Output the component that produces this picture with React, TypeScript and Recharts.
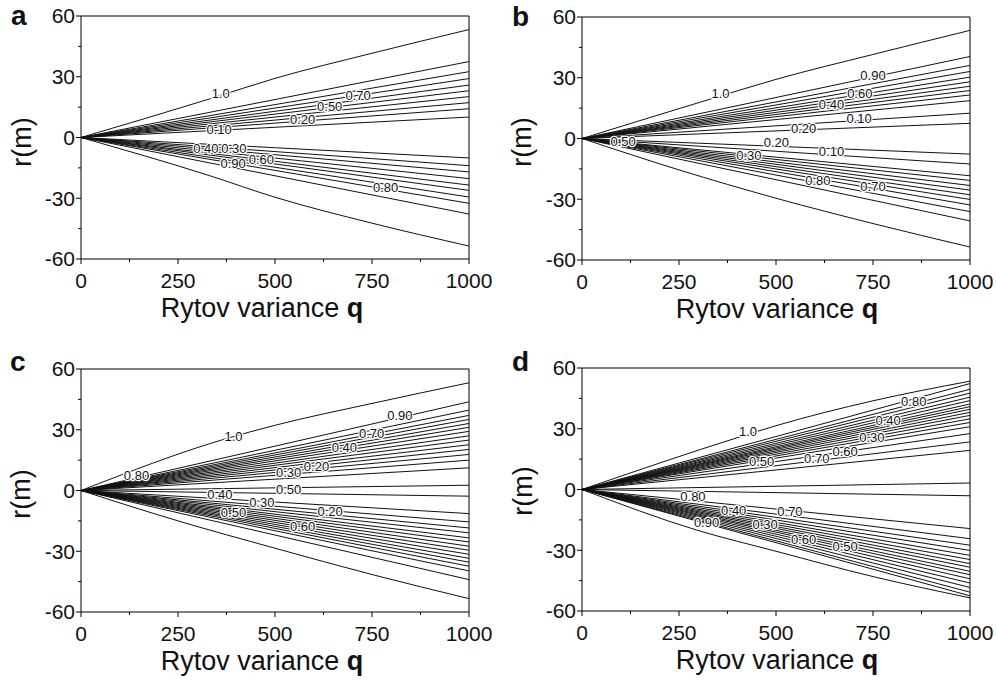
import React from 'react';
import { LineChart, Line, XAxis, YAxis, ReferenceLine, ReferenceDot } from 'recharts';

const FONT = '"Liberation Sans", Arial, Helvetica, sans-serif';

const qTicks = [0, 125, 250, 375, 500, 625, 750, 875, 1000];
const qMajor = [0, 250, 500, 750, 1000];
const rTicks = [-60, -45, -30, -15, 0, 15, 30, 45, 60];
const rMajor = [-60, -30, 0, 30, 60];

type Pt = [number, number];
type Lbl = [string, number, number];

// r at q = 1000 for the straight contours of each panel
const aEnds = [37.5, 32.5, 29.1, 25.9, 23.1, 20.2, 17.2, 14.2, 10.1, -10.1, -13.9, -17.0, -20.3, -23.5, -26.1, -29.4, -32.5, -37.8];
const bEnds = [40.5, 36.1, 33.1, 30.3, 28.0, 25.8, 23.7, 21.5, 18.7, 12.5, 7.5, -7.7, -12.6, -18.4, -20.7, -23.2, -25.5, -27.8, -30.1, -32.8, -36.1, -40.7];
const cEnds = [43.8, 39.7, 37.1, 35.1, 33.1, 31.2, 29.2, 27.0, 24.9, 22.6, 20.3, 17.8, 15.0, 11.2, 2.6, -2.8, -11.4, -15.5, -18.5, -20.9, -23.4, -25.4, -27.5, -29.5, -31.5, -33.5, -35.4, -37.4, -39.7, -44.0];
const dEnds = [52.3, 49.5, 47.6, 45.6, 43.9, 42.2, 40.9, 39.6, 38.1, 36.6, 34.9, 33.1, 31.0, 27.6, 23.5, 19.3, 3.2, -3.1, -19.3, -24.3, -27.5, -30.1, -32.5, -34.6, -36.6, -38.4, -40.4, -42.1, -44.1, -46.2, -48.4, -50.7, -52.5];

// outer 1.0 contours [q, r]
const aUp: Pt[] = [[0, 0], [334, 19.2], [500, 29.2], [750, 41.6], [1000, 53.3]];
const aDown: Pt[] = [[0, 0], [334, -19], [500, -29.5], [750, -42.3], [1000, -53.6]];
const bUp: Pt[] = [[0, 0], [340, 20], [500, 29.2], [750, 41.5], [1000, 53.4]];
const bDown: Pt[] = [[0, 0], [250, -15.5], [500, -29.5], [750, -42], [1000, -53.6]];
const cUp: Pt[] = [[0, 0], [367, 25.2], [500, 32.2], [750, 43], [1000, 53.2]];
const cDown: Pt[] = [[0, 0], [250, -15], [500, -28.5], [750, -41.5], [1000, -53.4]];
const dUp: Pt[] = [[0, 0], [407, 26], [500, 31.5], [750, 43.8], [1000, 53.5]];
const dDown: Pt[] = [[0, 0], [295, -20], [500, -30.5], [750, -43], [1000, -53.5]];

// contour labels [text, q, r]
const aLabels: Lbl[] = [
  ['1.0', 360, 22], ['0.70', 714, 21], ['0.50', 641, 15.4], ['0.20', 571, 8.8], ['0.10', 356, 4.2],
  ['0.40', 322, -5.5], ['0.30', 394, -5.5], ['0.60', 465, -10.6], ['0.90', 392, -12.9], ['0.80', 785, -24.6],
];
const bLabels: Lbl[] = [
  ['1.0', 357, 22.5], ['0.90', 750, 31.3], ['0.60', 716, 22.4], ['0.40', 643, 16.9], ['0.10', 714, 10.0],
  ['0.20', 571, 5.0], ['0.50', 106, -1.6], ['0.20', 501, -2.1], ['0.10', 643, -6.5], ['0.30', 430, -8.2],
  ['0.80', 608, -20.5], ['0.70', 750, -23.4],
];
const cLabels: Lbl[] = [
  ['1.0', 393, 27], ['0.90', 822, 37.1], ['0.70', 749, 28.2], ['0.40', 679, 21.1], ['0.20', 607, 11.7],
  ['0.30', 535, 8.9], ['0.80', 143, 7.7], ['0.50', 535, 0.7], ['0.40', 358, -2.0], ['0.30', 466, -5.8],
  ['0.50', 393, -11.0], ['0.20', 642, -10.2], ['0.60', 571, -17.6],
];
const dLabels: Lbl[] = [
  ['1.0', 428, 28.5], ['0.80', 855, 43.4], ['0.40', 789, 34.3], ['0.30', 747, 25.6], ['0.60', 678, 19.0],
  ['0.70', 605, 15.2], ['0.50', 463, 14.0], ['0.80', 286, -3.6], ['0.40', 391, -10.5], ['0.70', 536, -10.9],
  ['0.90', 321, -16.4], ['0.30', 472, -17.2], ['0.60', 571, -24.6], ['0.50', 678, -28.0],
];

const toRows = (pts: Pt[]) => pts.map(([q, r]) => ({ q, r }));
const straight = (end: number) => [{ q: 0, r: 0 }, { q: 1000, r: end }];

const QTick = (props: any) => {
  const { x, y, payload } = props;
  const major = qMajor.includes(payload.value);
  return (
    <g>
      <line x1={x} x2={x} y1={y} y2={y + (major ? 5 : 3)} stroke="#000" />
      {major && (
        <text x={x} y={y + 14} dy="0.71em" textAnchor="middle" fontSize={21} fill="#111" fontFamily={FONT}>
          {payload.value}
        </text>
      )}
    </g>
  );
};

const RTick = (props: any) => {
  const { x, y, payload } = props;
  const major = rMajor.includes(payload.value);
  return (
    <g>
      <line x1={x} x2={x - (major ? 5 : 3)} y1={y} y2={y} stroke="#000" />
      {major && (
        <text x={x - 6} y={y} dy="0.35em" textAnchor="end" fontSize={21} fill="#111" fontFamily={FONT}>
          {payload.value}
        </text>
      )}
    </g>
  );
};

const ContourLabel = ({ cx, cy, t }: { cx: number; cy: number; t: string }) => (
  <g>
    <text x={cx} y={cy} dy="0.36em" textAnchor="middle" fontSize={13} fontFamily={FONT}
      fill="#fff" stroke="#fff" strokeWidth={2.5}>{t}</text>
    <text x={cx} y={cy} dy="0.36em" textAnchor="middle" fontSize={13} fontFamily={FONT} fill="#111">{t}</text>
  </g>
);

interface PanelProps {
  left: number;
  top: number;
  ends: number[];
  up: Pt[];
  down: Pt[];
  labels: Lbl[];
}

const Panel = ({ left, top, ends, up, down, labels }: PanelProps) => {
  const outer = [toRows(up), toRows(down)];
  const inner = ends.map(straight);
  return (
    <div style={{ position: 'absolute', left, top }}>
      <LineChart width={495} height={340} margin={{ top: 16, right: 26, bottom: 0, left: 0 }}>
        <XAxis
          type="number" dataKey="q" domain={[0, 1000]} ticks={qTicks} interval={0} height={81}
          tickSize={0} tickMargin={0} tickLine={false} axisLine={{ stroke: '#000' }} tick={(p: any) => <QTick {...p} />}
        />
        <YAxis
          type="number" domain={[-60, 60]} ticks={rTicks} interval={0} width={81}
          tickSize={0} tickMargin={0} tickLine={false} axisLine={{ stroke: '#000' }} tick={(p: any) => <RTick {...p} />}
        />
        <ReferenceLine y={60} stroke="#000" />
        <ReferenceLine x={1000} stroke="#000" />
        {outer.map((d, i) => (
          <Line key={'o' + i} data={d} dataKey="r" type="monotone" stroke="#111" strokeWidth={1}
            dot={false} activeDot={false} isAnimationActive={false} />
        ))}
        {inner.map((d, i) => (
          <Line key={'i' + i} data={d} dataKey="r" type="linear" stroke="#111" strokeWidth={1}
            dot={false} activeDot={false} isAnimationActive={false} />
        ))}
        {labels.map(([t, q, r], i) => (
          <ReferenceDot key={'l' + i} x={q} y={r} r={0}
            shape={(p: any) => <ContourLabel cx={p.cx} cy={p.cy} t={t} />}
          />
        ))}
      </LineChart>
    </div>
  );
};

const XTitle = ({ x, y }: { x: number; y: number }) => (
  <text x={x} y={y} textAnchor="middle" fontSize={27} fontFamily={FONT} fill="#111">
    Rytov variance <tspan fontWeight="bold">q</tspan>
  </text>
);

const YTitle = ({ x, y }: { x: number; y: number }) => (
  <text x={x} y={y} textAnchor="middle" fontSize={27} fontFamily={FONT} fill="#111" transform={`rotate(-90 ${x} ${y})`}>
    r(m)
  </text>
);

const Letter = ({ x, y, t }: { x: number; y: number; t: string }) => (
  <text x={x} y={y} fontSize={28} fontWeight="bold" fontFamily={FONT} fill="#111">{t}</text>
);

export default function App() {
  return (
    <div style={{ position: 'absolute', left: 0, top: 0, width: 996, height: 681, background: '#fff', fontFamily: FONT, overflow: 'hidden' }}>
      <Panel left={0} top={0} ends={aEnds} up={aUp} down={aDown} labels={aLabels} />
      <Panel left={501} top={1} ends={bEnds} up={bUp} down={bDown} labels={bLabels} />
      <Panel left={0} top={353} ends={cEnds} up={cUp} down={cDown} labels={cLabels} />
      <Panel left={501} top={352} ends={dEnds} up={dUp} down={dDown} labels={dLabels} />
      <svg width={996} height={681} style={{ position: 'absolute', left: 0, top: 0, pointerEvents: 'none' }}>
        <Letter x={11} y={25} t="a" />
        <Letter x={512} y={26} t="b" />
        <Letter x={10} y={371} t="c" />
        <Letter x={512} y={371} t="d" />
        <XTitle x={262} y={317} />
        <XTitle x={777} y={318} />
        <XTitle x={262} y={670} />
        <XTitle x={777} y={669} />
        <YTitle x={31} y={142} />
        <YTitle x={531} y={142} />
        <YTitle x={30} y={494} />
        <YTitle x={532} y={491} />
      </svg>
    </div>
  );
}
